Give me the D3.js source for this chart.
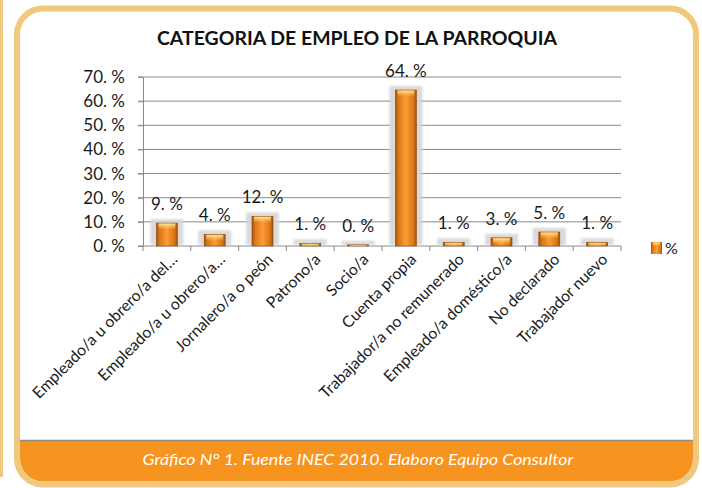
<!DOCTYPE html>
<html>
<head>
<meta charset="utf-8">
<script src="https://cdn.jsdelivr.net/npm/d3@7"></script>
<style>
  body { margin: 0; background: #fff; }
  text { font-family: Lato, "Open Sans", sans-serif; }
</style>
</head>
<body>
<div id="canvas"></div>
<script>
var w = 702;
var h = 488;

// chart data
var categories = [
  "Empleado/a u obrero/a del…",
  "Empleado/a u obrero/a…",
  "Jornalero/a o peón",
  "Patrono/a",
  "Socio/a",
  "Cuenta propia",
  "Trabajador/a no remunerado",
  "Empleado/a doméstico/a",
  "No declarado",
  "Trabajador nuevo"
];
var values = [9.5, 4.8, 12.3, 1.1, 0.5, 64.6, 1.5, 3.4, 5.8, 1.5];
var yTicks = [0, 10, 20, 30, 40, 50, 60, 70];
var seriesName = "%";
var title = "CATEGORIA DE EMPLEO DE LA PARROQUIA";
var caption = "Gráfico N° 1. Fuente INEC 2010. Elaboro Equipo Consultor";

var svg = d3.select("#canvas").append("svg")
  .attr("width", w)
  .attr("height", h);

var defs = svg.append("defs");

// bar look: darker edges, lighter middle
var barGrad = defs.append("linearGradient").attr("id", "barGrad")
  .attr("x1", "0").attr("x2", "1").attr("y1", "0").attr("y2", "0");
[["0%", "#9a500e"], ["14%", "#dd7416"], ["50%", "#fb9d34"], ["86%", "#dd7416"], ["100%", "#9a500e"]]
  .forEach(function(s) { barGrad.append("stop").attr("offset", s[0]).attr("stop-color", s[1]); });

var topGrad = defs.append("linearGradient").attr("id", "topGrad")
  .attr("x1", "0").attr("x2", "0").attr("y1", "0").attr("y2", "1");
topGrad.append("stop").attr("offset", "0%").attr("stop-color", "#ffeb9a").attr("stop-opacity", 0.95);
topGrad.append("stop").attr("offset", "100%").attr("stop-color", "#ffd070").attr("stop-opacity", 0);

defs.append("filter").attr("id", "soft")
  .attr("x", "-30%").attr("y", "-30%").attr("width", "160%").attr("height", "160%")
  .append("feGaussianBlur").attr("stdDeviation", 1);

// frame
var tan = "#f0c97e";
svg.append("rect").attr("x", 0).attr("y", 0).attr("width", 3).attr("height", 477).attr("fill", tan);

defs.append("clipPath").attr("id", "inner")
  .append("rect").attr("x", 20).attr("y", 11.5).attr("width", 673).attr("height", 470).attr("rx", 23);

svg.append("rect")
  .attr("x", 17).attr("y", 8.5).attr("width", 679).attr("height", 476).attr("rx", 26)
  .attr("fill", "#fff");

var band = svg.append("g").attr("clip-path", "url(#inner)");
band.append("rect").attr("x", 0).attr("y", 441).attr("width", w).attr("height", 50).attr("fill", "#f7941f");
band.append("line").attr("x1", 0).attr("x2", w).attr("y1", 440.5).attr("y2", 440.5)
  .attr("stroke", "#8c8c8c").attr("stroke-width", 1.5);

svg.append("rect")
  .attr("x", 17).attr("y", 8.5).attr("width", 679).attr("height", 476).attr("rx", 26)
  .attr("fill", "none").attr("stroke", tan).attr("stroke-width", 6);

svg.append("text")
  .attr("x", 358).attr("y", 465)
  .attr("text-anchor", "middle")
  .attr("fill", "#fff")
  .style("font-style", "italic")
  .style("font-size", "15px")
  .attr("textLength", 431).attr("lengthAdjust", "spacingAndGlyphs")
  .text(caption);

// title
svg.append("text")
  .attr("x", 357).attr("y", 45)
  .attr("text-anchor", "middle")
  .attr("fill", "#111")
  .style("font-weight", "bold")
  .style("font-size", "19px")
  .attr("textLength", 400).attr("lengthAdjust", "spacingAndGlyphs")
  .text(title);

// scales
var margin = {left: 143, right: 621, top: 77, bottom: 246};

var xScale = d3.scaleBand()
  .domain(categories)
  .range([margin.left, margin.right]);

var yScale = d3.scaleLinear()
  .domain([0, 70])
  .range([margin.bottom, margin.top]);

// grid
svg.append("g").selectAll("line")
  .data(yTicks).enter().append("line")
  .attr("x1", margin.left - 5).attr("x2", margin.right)
  .attr("y1", d => yScale(d)).attr("y2", d => yScale(d))
  .attr("stroke", "#8a8a8a").attr("stroke-width", 1);

var yAxis = d3.axisLeft(yScale).tickValues(yTicks).tickSize(5).tickFormat(d => d + ". %");
var gy = svg.append("g").attr("transform", `translate(${margin.left},0)`).call(yAxis);
gy.select(".domain").attr("stroke", "#8a8a8a");
gy.selectAll(".tick line").attr("stroke", "#8a8a8a");
gy.selectAll("text")
  .attr("x", -18)
  .style("font-size", "17px")
  .style("font-family", "Lato, sans-serif")
  .attr("fill", "#1a1a1a");

// bottom ticks at band boundaries
var bounds = categories.map(c => xScale(c)).concat([margin.right]);
svg.append("g").selectAll("line")
  .data(bounds).enter().append("line")
  .attr("x1", d => d).attr("x2", d => d)
  .attr("y1", margin.bottom).attr("y2", margin.bottom + 5)
  .attr("stroke", "#8a8a8a");

// bars
var bw = xScale.bandwidth() * 0.44;
var bars = svg.append("g");
categories.forEach(function(c, i) {
  var v = values[i];
  var cx = xScale(c) + xScale.bandwidth() / 2;
  var top = yScale(v);
  var bh = margin.bottom - top;
  var g = bars.append("g");

  g.append("rect")
    .attr("x", cx - bw / 2 - 6).attr("y", top - 4)
    .attr("width", bw + 12).attr("height", bh + 3)
    .attr("fill", "#d6d6d6").attr("opacity", 0.9)
    .attr("filter", "url(#soft)");

  g.append("rect")
    .attr("x", cx - bw / 2).attr("y", top)
    .attr("width", bw).attr("height", bh)
    .attr("fill", "url(#barGrad)")
    .attr("stroke", "#8c4a10").attr("stroke-width", 0.6);

  g.append("rect")
    .attr("x", cx - bw / 2 + 2).attr("y", top + 0.5)
    .attr("width", bw - 4).attr("height", Math.min(6, bh))
    .attr("fill", "url(#topGrad)");

  g.append("text")
    .attr("x", cx).attr("y", top - 13)
    .attr("text-anchor", "middle")
    .style("font-size", "17px")
    .attr("fill", "#1a1a1a")
    .text(Math.floor(v) + ". %");

  g.append("text")
    .attr("transform", `translate(${cx + 3},252) rotate(-45)`)
    .attr("dy", "0.75em")
    .attr("text-anchor", "end")
    .style("font-size", "15.8px")
    .attr("fill", "#1a1a1a")
    .text(c);
});

// legend
svg.append("rect")
  .attr("x", 651).attr("y", 242).attr("width", 11).attr("height", 12)
  .attr("fill", "url(#barGrad)");
svg.append("rect")
  .attr("x", 653).attr("y", 242.5).attr("width", 7).attr("height", 4)
  .attr("fill", "url(#topGrad)");
svg.append("text")
  .attr("x", 665).attr("y", 254)
  .style("font-size", "16px")
  .attr("fill", "#1a1a1a")
  .text(seriesName);
</script>
</body>
</html>
